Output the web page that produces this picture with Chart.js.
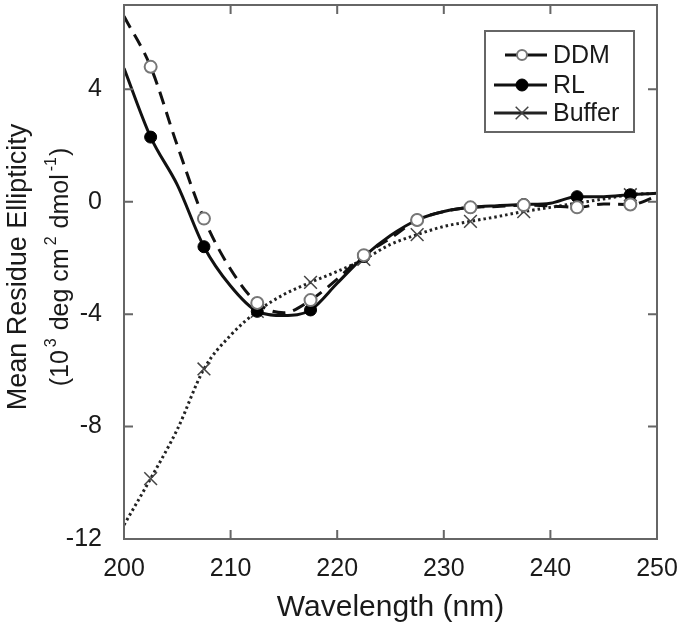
<!DOCTYPE html>
<html>
<head>
<meta charset="utf-8">
<script src="https://cdn.jsdelivr.net/npm/chart.js@4.4.1/dist/chart.umd.min.js"></script>
<style>
  body { margin: 0; background: #fff; }
  #cd { display: block; }
</style>
</head>
<body>
<canvas id="cd" width="685" height="630"></canvas>
<script>
// wavelength in nm, ellipticity in 10^3 deg cm^2 dmol^-1
var wavelengths = [200, 202.5, 205, 207.5, 210, 212.5, 215, 217.5, 220, 222.5, 225,
                   227.5, 230, 232.5, 235, 237.5, 240, 242.5, 245, 247.5, 250];
var ddm    = [6.6, 4.8, 2.0, -0.6, -2.4, -3.6, -3.95, -3.5, -2.75, -1.9, -1.3,
              -0.65, -0.35, -0.2, -0.17, -0.12, -0.15, -0.2, -0.08, -0.1, 0.2];
var rl     = [4.75, 2.3, 0.6, -1.6, -3.0, -3.9, -4.05, -3.85, -2.9, -1.95, -1.2,
              -0.65, -0.35, -0.2, -0.14, -0.1, -0.05, 0.18, 0.18, 0.25, 0.3];
var buffer = [-11.5, -9.85, -8.1, -5.95, -4.75, -3.9, -3.3, -2.87, -2.48, -2.05, -1.52,
              -1.17, -0.88, -0.7, -0.53, -0.35, -0.2, -0.05, 0.1, 0.25, 0.3];
var xTicks = [200, 210, 220, 230, 240, 250];
var yTicks = [-12, -8, -4, 0, 4];

var FONT = '"Liberation Sans", Arial, sans-serif';
var TXT = '#1a1a1a';
var AXIS = '#666';

function pts(ys) {
    return wavelengths.map(function (w, i) { return { x: w, y: ys[i] }; });
}
// markers only every 5 nm (202.5, 207.5, ...)
function markEvery(r) {
    return function (c) { return c.dataIndex % 2 === 1 ? r : 0; };
}

// frame with inward ticks on all four sides
var boxPlugin = {
    id: 'box',
    afterDatasetsDraw: function (chart) {
        var ctx = chart.ctx, a = chart.chartArea;
        var sx = chart.scales.x, sy = chart.scales.y, tl = 9;
        ctx.save();
        ctx.strokeStyle = AXIS;
        ctx.lineWidth = 2;
        ctx.strokeRect(a.left, a.top, a.right - a.left, a.bottom - a.top);
        ctx.beginPath();
        xTicks.forEach(function (v) {
            var px = sx.getPixelForValue(v);
            ctx.moveTo(px, a.bottom); ctx.lineTo(px, a.bottom - tl);
            ctx.moveTo(px, a.top); ctx.lineTo(px, a.top + tl);
        });
        yTicks.forEach(function (v) {
            var py = sy.getPixelForValue(v);
            ctx.moveTo(a.left, py); ctx.lineTo(a.left + tl, py);
            ctx.moveTo(a.right, py); ctx.lineTo(a.right - tl, py);
        });
        ctx.stroke();
        ctx.restore();
    }
};

// axis titles (y title has superscripts)
var titlePlugin = {
    id: 'titles',
    afterDraw: function (chart) {
        var ctx = chart.ctx, a = chart.chartArea;
        ctx.save();
        ctx.fillStyle = TXT;
        ctx.font = '30px ' + FONT;
        ctx.textAlign = 'center';
        ctx.textBaseline = 'middle';
        ctx.fillText('Wavelength (nm)', (a.left + a.right) / 2, 608);

        var cy = 267;
        ctx.save();
        ctx.translate(26, cy);
        ctx.rotate(-Math.PI / 2);
        ctx.font = '27px ' + FONT;
        ctx.textBaseline = 'alphabetic';
        ctx.fillText('Mean Residue Ellipticity', 0, 0);
        ctx.restore();

        // second line, pieces with superscripts
        var parts = [['(10', 0], ['3', 1], [' deg cm', 0], ['2', 1], [' dmol', 0], ['-1', 1], [')', 0]];
        var big = '25px ' + FONT, small = '16px ' + FONT;
        var w = 0;
        parts.forEach(function (p) {
            ctx.font = p[1] ? small : big;
            p.push(ctx.measureText(p[0]).width + (p[1] ? 4 : 0));
            w += p[2];
        });
        ctx.save();
        ctx.translate(68, cy);
        ctx.rotate(-Math.PI / 2);
        ctx.textAlign = 'left';
        ctx.textBaseline = 'alphabetic';
        var x = -w / 2;
        parts.forEach(function (p) {
            ctx.font = p[1] ? small : big;
            ctx.fillText(p[0], x + (p[1] ? 3 : 0), p[1] ? -12 : 0);
            x += p[2];
        });
        ctx.restore();
        ctx.restore();
    }
};

// boxed legend like the original
var legendPlugin = {
    id: 'boxLegend',
    afterDraw: function (chart) {
        var ctx = chart.ctx;
        var L = 485, T = 31, R = 634, B = 132;
        ctx.save();
        ctx.fillStyle = '#fff';
        ctx.fillRect(L, T, R - L, B - T);
        ctx.strokeStyle = AXIS;
        ctx.lineWidth = 2;
        ctx.strokeRect(L, T, R - L, B - T);
        var rows = [55, 85, 113];
        chart.data.datasets.forEach(function (ds, i) {
            var y = rows[i];
            var x1 = i === 0 ? 505 : 494, x2 = 547, mx = 522;
            ctx.strokeStyle = ds.borderColor;
            ctx.lineWidth = ds.borderWidth;
            ctx.beginPath();
            ctx.moveTo(x1, y); ctx.lineTo(x2, y);
            ctx.stroke();
            ctx.fillStyle = ds.pointBackgroundColor;
            ctx.strokeStyle = ds.pointBorderColor;
            ctx.lineWidth = ds.pointBorderWidth;
            ctx.beginPath();
            if (ds.pointStyle === 'circle') {
                ctx.arc(mx, y, ds.legendRadius, 0, Math.PI * 2);
                ctx.fill(); ctx.stroke();
            } else {
                var r = ds.legendRadius * 0.7;
                ctx.moveTo(mx - r, y - r); ctx.lineTo(mx + r, y + r);
                ctx.moveTo(mx - r, y + r); ctx.lineTo(mx + r, y - r);
                ctx.stroke();
            }
            ctx.fillStyle = TXT;
            ctx.font = '25px ' + FONT;
            ctx.textAlign = 'left';
            ctx.textBaseline = 'middle';
            ctx.fillText(ds.label, 553, y + 1);
        });
        ctx.restore();
    }
};

var ctx = document.getElementById('cd').getContext('2d');
var chart = new Chart(ctx, {
    type: 'line',
    data: {
        datasets: [{
            label: 'DDM',
            data: pts(ddm),
            borderColor: '#111',
            borderWidth: 3,
            borderDash: [13, 8],
            pointStyle: 'circle',
            pointRadius: markEvery(6),
            legendRadius: 5,
            pointBackgroundColor: '#fff',
            pointBorderColor: '#777',
            pointBorderWidth: 2
        }, {
            label: 'RL',
            data: pts(rl),
            borderColor: '#111',
            borderWidth: 3,
            pointStyle: 'circle',
            pointRadius: markEvery(6),
            legendRadius: 6,
            pointBackgroundColor: '#000',
            pointBorderColor: '#000',
            pointBorderWidth: 1
        }, {
            label: 'Buffer',
            data: pts(buffer),
            borderColor: '#222',
            borderWidth: 3,
            borderDash: [2.5, 3],
            pointStyle: 'crossRot',
            pointRadius: markEvery(9),
            legendRadius: 9,
            pointBackgroundColor: '#444',
            pointBorderColor: '#444',
            pointBorderWidth: 1.5
        }]
    },
    options: {
        responsive: false,
        animation: false,
        devicePixelRatio: 1,
        cubicInterpolationMode: 'monotone',
        layout: { padding: { left: 0, top: 5, right: 28, bottom: 0 } },
        plugins: { legend: { display: false }, tooltip: { enabled: false } },
        scales: {
            x: {
                type: 'linear',
                min: 200, max: 250,
                afterFit: function (s) { s.height = 91; s.paddingLeft = 0; s.paddingRight = 0; },
                afterBuildTicks: function (s) { s.ticks = xTicks.map(function (v) { return { value: v }; }); },
                grid: { display: false },
                border: { display: false },
                ticks: { color: TXT, font: { family: FONT, size: 25 }, padding: 7, maxRotation: 0 }
            },
            y: {
                min: -12, max: 7,
                afterFit: function (s) { s.width = 124; s.paddingTop = 0; s.paddingBottom = 0; },
                afterBuildTicks: function (s) { s.ticks = yTicks.map(function (v) { return { value: v }; }); },
                grid: { display: false },
                border: { display: false },
                ticks: { color: TXT, font: { family: FONT, size: 25 }, padding: 14 }
            }
        }
    },
    plugins: [boxPlugin, titlePlugin, legendPlugin]
});
</script>
</body>
</html>
